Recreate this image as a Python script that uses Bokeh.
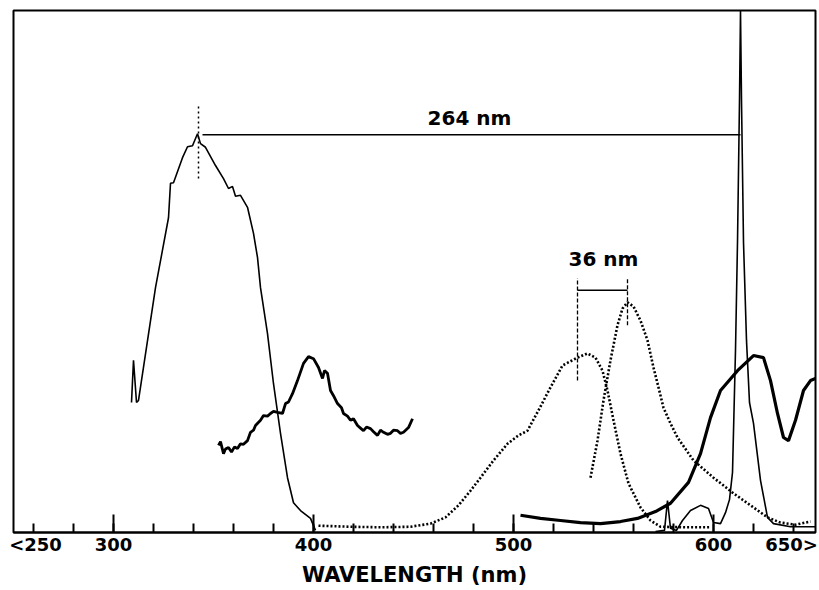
from bokeh.plotting import figure
from bokeh.models import Range1d, FixedTicker, Label
from bokeh.embed import file_html
from bokeh.resources import INLINE

# ---- data (wavelength in nm, relative intensity 0-100) ----
exc_nm = [309, 310, 311.5, 312.5, 321, 327.5, 328.5, 330, 334.5, 337, 339.5, 342, 343.5, 346,
          351, 355, 357.5, 359.5, 361, 363.5, 367, 370, 372, 373.5, 377, 380, 383.5, 387,
          390, 393.5, 398.5, 401]
exc_y = [24.9, 33.0, 24.9, 25.3, 46.9, 60.3, 66.9, 67.0, 71.8, 73.9, 74.1, 76.4, 74.5, 73.8,
         70.3, 67.8, 65.9, 66.3, 64.4, 64.6, 62.3, 57.3, 52.7, 46.9, 38.1, 28.5, 19.0, 10.5,
         5.7, 4.2, 2.7, 0.4]

noisy_nm = [352.5, 353.5, 355, 356, 357.5, 359, 360.5, 362, 363.5, 365, 367, 368.5, 370, 371,
            373.5, 375, 377, 378.5, 380, 382, 384.5, 386, 387.5, 389.5, 392, 395, 397.5, 400,
            402.5, 404.5, 405.5, 407, 408.5, 410, 412, 414, 415, 417, 418.5, 420, 422, 423.5,
            425, 426.5, 428.5, 430, 432, 433.5, 435, 437, 438.5, 440, 442, 443.5, 445, 447.5, 449.5]
noisy_y = [16.7, 17.4, 15.1, 16.0, 16.3, 15.4, 16.4, 16.1, 17.0, 16.9, 17.6, 19.2, 19.6, 20.5,
           21.5, 22.4, 22.3, 22.8, 23.2, 23.0, 22.8, 24.7, 25.0, 26.6, 29.1, 32.4, 33.7, 33.3,
           31.6, 29.5, 31.0, 30.5, 27.2, 26.2, 24.7, 23.9, 22.8, 22.3, 21.5, 21.8, 20.5, 20.0,
           19.5, 20.2, 19.9, 19.3, 18.6, 19.6, 19.2, 18.8, 19.0, 19.6, 19.5, 19.0, 19.2, 20.1, 21.8]

dotA_nm = [402.5, 418.5, 433.5, 448.5, 458.5, 466, 472.5, 478.5, 483.5, 490, 497, 502.5, 507,
           512.5, 518.5, 524.5, 532, 537, 541, 544.5, 547, 550, 553.5, 557.5, 563.5, 568.5,
           573.5, 586, 598.5]
dotA_y = [1.3, 1.1, 1.0, 1.1, 1.7, 2.9, 5.2, 8.0, 10.5, 13.8, 17.0, 18.6, 19.5, 23.4, 27.8,
          32.0, 33.5, 34.3, 33.5, 31.0, 27.2, 21.5, 15.1, 9.4, 4.8, 2.3, 1.1, 1.0, 1.0]

dotB_nm = [538.5, 542, 545, 548.5, 552, 554.5, 557, 560, 563.5, 567, 570, 572.5, 575, 578.5,
           582, 590, 600, 610, 620, 627, 633.5, 641, 648.5]
dotB_y = [10.5, 17.6, 25.3, 33.0, 39.7, 42.9, 44.1, 43.3, 40.6, 36.8, 31.6, 27.8, 23.9, 20.9,
          18.2, 13.8, 10.5, 7.5, 4.8, 2.9, 1.9, 1.5, 2.1]

thick_nm = [503.5, 513.5, 523.5, 533.5, 543.5, 553.5, 562, 571, 578.5, 587.5, 593.5, 598.5,
            603.5, 612, 620, 625, 628.5, 632, 635, 637.5, 641, 645, 648.5, 651]
thick_y = [3.3, 2.7, 2.3, 1.9, 1.7, 2.1, 2.7, 4.0, 5.6, 9.6, 15.1, 22.0, 27.2, 31.0, 33.9,
           33.5, 29.1, 22.8, 18.2, 17.6, 21.5, 27.2, 29.1, 29.5]

sharp_nm = [571, 575.5, 577, 578.5, 581.5, 584.5, 588.5, 593.5, 597.5, 600, 603.5, 606, 608,
            609.5, 611, 612, 613, 613.5, 614, 615, 616.5, 618, 620, 623.5, 627, 630, 638.5, 651]
sharp_y = [0.2, 0.4, 6.1, 0.8, 0.4, 2.3, 4.2, 5.2, 4.6, 1.9, 1.7, 3.8, 6.3, 11.5, 34.9, 55.6,
           82.8, 100, 82.8, 55.6, 36.8, 24.9, 20.9, 10.0, 2.9, 1.7, 1.1, 1.1]

# annotations
peak_exc_nm = 342.5
peak_sharp_nm = 613.5
span_y = 76.2
peakA_nm = 532
peakB_nm = 557
bracket_y = 46.4

major_ticks = [300, 400, 500, 600]
label_ticks = [261, 300, 400, 500, 600, 639]
label_text = {261: "<250", 300: "300", 400: "400", 500: "500", 600: "600", 639: "650>"}
minor_ticks = list(range(260, 641, 20))

FONT = "DejaVu Sans"

p = figure(frame_width=802, frame_height=522, x_range=Range1d(250, 651), y_range=Range1d(0, 100),
           y_axis_location=None, toolbar_location=None, output_backend="svg",
           min_border_left=13, min_border_right=4, min_border_top=10, min_border_bottom=48)
p.grid.grid_line_color = None
p.background_fill_color = "white"
p.outline_line_color = "black"
p.outline_line_width = 2

ax = p.xaxis[0]
ax.ticker = FixedTicker(ticks=label_ticks, minor_ticks=minor_ticks)
ax.major_label_overrides = label_text
ax.major_tick_line_color = None
ax.major_tick_in = 0
ax.major_tick_out = 0
ax.minor_tick_in = 9
ax.minor_tick_out = 0
ax.minor_tick_line_width = 2
ax.minor_tick_line_color = "black"
ax.axis_line_width = 2
ax.axis_line_color = "black"
ax.major_label_text_font = FONT
ax.major_label_text_font_style = "bold"
ax.major_label_text_font_size = "18px"
ax.major_label_text_color = "black"
ax.major_label_standoff = 1
ax.axis_label = "WAVELENGTH (nm)"
ax.axis_label_text_font = FONT
ax.axis_label_text_font_style = "bold"
ax.axis_label_text_font_size = "21px"
ax.axis_label_text_color = "black"
ax.axis_label_standoff = 5

# taller ticks at the labelled hundreds
tick_h = 18 / 5.22
p.segment(x0=major_ticks, y0=[0] * 4, x1=major_ticks, y1=[tick_h] * 4, line_color="black", line_width=2)

p.line(exc_nm, exc_y, line_color="black", line_width=1.6)
p.line(noisy_nm, noisy_y, line_color="black", line_width=2.8)
p.line(dotA_nm, dotA_y, line_color="black", line_width=2.6, line_dash="2 2")
p.line(dotB_nm, dotB_y, line_color="black", line_width=2.6, line_dash="2 2")
p.line(thick_nm, thick_y, line_color="black", line_width=3.2)
p.line(sharp_nm, sharp_y, line_color="black", line_width=1.6)

# annotation lines
p.segment(x0=[peak_exc_nm], y0=[67.8], x1=[peak_exc_nm], y1=[82.2], line_color="black",
          line_width=1.5, line_dash="2 3")
p.segment(x0=[peak_exc_nm + 2], y0=[span_y], x1=[peak_sharp_nm], y1=[span_y], line_color="black",
          line_width=1.5)
p.segment(x0=[peakA_nm, peakB_nm], y0=[29.1, 39.7], x1=[peakA_nm, peakB_nm], y1=[48.7, 48.7],
          line_color="black", line_width=1.3, line_dash="4 2")
p.segment(x0=[peakA_nm], y0=[bracket_y], x1=[peakB_nm], y1=[bracket_y], line_color="black",
          line_width=1.5)

p.add_layout(Label(x=478, y=79.5, text="264 nm", text_align="center", text_baseline="middle",
                   text_font=FONT, text_font_style="bold", text_font_size="20px",
                   text_color="black"))
p.add_layout(Label(x=545, y=52.3, text="36 nm", text_align="center", text_baseline="middle",
                   text_font=FONT, text_font_style="bold", text_font_size="20px",
                   text_color="black"))

open("out.html", "w").write(file_html(p, INLINE))
